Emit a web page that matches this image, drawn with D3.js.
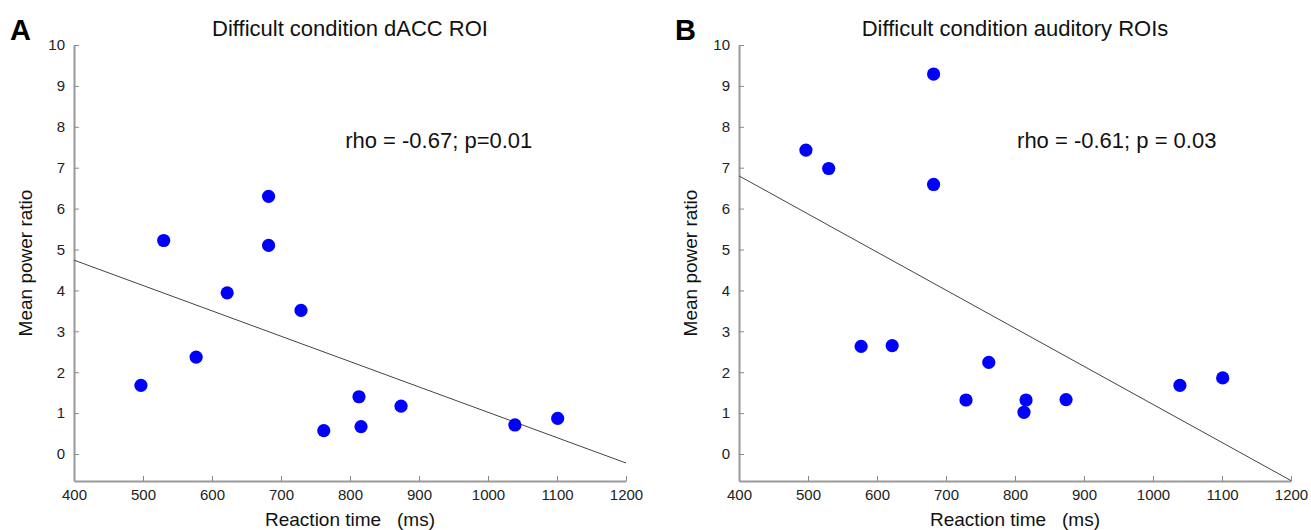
<!DOCTYPE html>
<html>
<head>
<meta charset="utf-8">
<script src="https://cdn.jsdelivr.net/npm/d3@7"></script>
<style>
  body { margin: 0; background: #fff; }
  svg { display: block; font-family: "Liberation Sans", Arial, sans-serif; }
</style>
</head>
<body>
<script>
// reaction times are shared by both panels (same subjects)
var rtMs = [497, 530, 577, 622, 682, 682, 729, 762, 813, 816, 874, 1039, 1101];
var daccPower = [1.68, 5.22, 2.37, 3.94, 6.30, 5.10, 3.51, 0.57, 1.40, 0.67, 1.17, 0.71, 0.87];
var auditoryPower = [7.43, 6.98, 2.63, 2.65, 9.29, 6.59, 1.32, 2.24, 1.02, 1.32, 1.33, 1.68, 1.86];
var daccFit = [[400, 4.74], [1200, -0.22]];
var auditoryFit = [[400, 6.80], [1200, -0.65]];
var xTicks = [400, 500, 600, 700, 800, 900, 1000, 1100, 1200];
var yTicks = [0, 1, 2, 3, 4, 5, 6, 7, 8, 9, 10];

var size = ({ width: 1311, height: 530 });
var panels = [
  { letter: "A", title: "Difficult condition dACC ROI", stat: "rho = -0.67; p=0.01",
    power: daccPower, fit: daccFit, left: 74, statAt: 793 },
  { letter: "B", title: "Difficult condition auditory ROIs", stat: "rho = -0.61; p = 0.03",
    power: auditoryPower, fit: auditoryFit, left: 739, statAt: 803 }
];

var svg = d3.select("body").append("svg")
            .attr("width", size.width)
            .attr("height", size.height);

function draw_panel(p) {
  var x = d3.scaleLinear().domain([400, 1200]).range([p.left, p.left + 552]);
  var y = d3.scaleLinear().domain([-0.66, 10]).range([481, 45]);
  var g = svg.append("g");

  var xAxis = g.append("g")
               .attr("transform", "translate(0," + y(-0.66) + ")")
               .call(d3.axisBottom(x).tickValues(xTicks).tickFormat(d3.format("d"))
                       .tickSize(-5).tickSizeOuter(0).tickPadding(8));
  var yAxis = g.append("g")
               .attr("transform", "translate(" + x(400) + ",0)")
               .call(d3.axisLeft(y).tickValues(yTicks).tickFormat(d3.format("d"))
                       .tickSize(-5).tickSizeOuter(0).tickPadding(9));

  [xAxis, yAxis].forEach(function(a) {
    a.select(".domain").attr("stroke", "#9a9a9a").attr("stroke-width", 2);
    a.selectAll(".tick line").attr("stroke", "#8a8a8a").attr("stroke-width", 1);
    a.selectAll(".tick text").attr("fill", "#222").style("font-size", "15px")
     .style("font-family", "Liberation Sans, Arial, sans-serif");
  });

  g.append("line")
   .attr("x1", x(p.fit[0][0])).attr("y1", y(p.fit[0][1]))
   .attr("x2", x(p.fit[1][0])).attr("y2", y(p.fit[1][1]))
   .attr("stroke", "#444").attr("stroke-width", 1);

  g.selectAll("circle")
   .data(rtMs.map(function(d, i) { return [d, p.power[i]]; }))
   .enter()
   .append("circle")
   .attr("cx", function(d) { return x(d[0]); })
   .attr("cy", function(d) { return y(d[1]); })
   .attr("r", 6.6)
   .attr("fill", "#0000ff");

  g.append("text")
   .attr("x", x(800)).attr("y", 36)
   .attr("text-anchor", "middle")
   .style("font-size", "22px").attr("fill", "#111")
   .text(p.title);

  g.append("text")
   .attr("x", x(p.statAt)).attr("y", y(7.49))
   .style("font-size", "22px").attr("fill", "#111")
   .text(p.stat);

  g.append("text")
   .attr("x", x(800)).attr("y", 526)
   .attr("text-anchor", "middle")
   .style("font-size", "19px").attr("fill", "#111")
   .text("Reaction time\u00a0\u00a0 (ms)");

  g.append("text")
   .attr("transform", "translate(" + (p.left - 42) + "," + y(4.67) + ") rotate(-90)")
   .attr("text-anchor", "middle")
   .style("font-size", "19px").attr("fill", "#111")
   .text("Mean power ratio");

  g.append("text")
   .attr("x", p.left - 64).attr("y", 40)
   .style("font-size", "29px").style("font-weight", "bold").attr("fill", "#000")
   .text(p.letter);
}

panels.forEach(draw_panel);
</script>
</body>
</html>
